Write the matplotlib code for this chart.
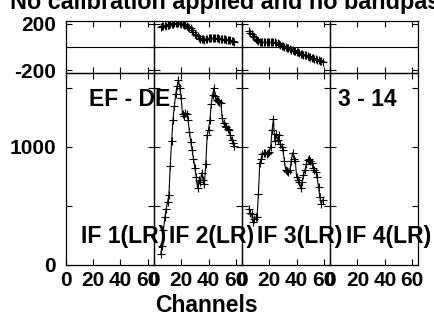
import matplotlib
matplotlib.use("Agg")
import matplotlib.pyplot as plt
from matplotlib.ticker import FixedLocator

plt.rcParams['font.family'] = ['Liberation Sans', 'DejaVu Sans']
plt.rcParams['font.weight'] = 'bold'
plt.rcParams['axes.unicode_minus'] = False

# ---- data ----
if_labels = ["IF 1(LR)", "IF 2(LR)", "IF 3(LR)", "IF 4(LR)"]
x_ticks = [0, 20, 40, 60]
channels = list(range(5, 60))

amp_if2 = [85, 160, 290, 400, 470, 530, 590, 840, 1050, 1230,
           1345, 1450, 1515, 1570, 1500, 1415, 1275, 1265, 1290, 1280,
           1230, 1130, 1045, 975, 900, 820, 740, 650, 720, 700,
           780, 720, 680, 850, 1100, 1145, 1230, 1360, 1440, 1500,
           1430, 1400, 1390, 1380, 1370, 1245, 1200, 1175, 1170, 1150,
           1145, 1100, 1060, 1030, 1005]
amp_if3 = [470, 440, 425, 360, 383, 400, 400, 600, 860, 900,
           940, 950, 945, 935, 950, 960, 1000, 1140, 1235, 1050,
           1110, 1060, 1100, 1020, 1000, 970, 880, 800, 795, 790,
           800, 880, 950, 900, 880, 740, 720, 700, 650, 700,
           760, 800, 850, 890, 900, 880, 860, 820, 800, 790,
           740, 660, 570, 510, 550]
phase_if2 = [176, 182, 180, 188, 184, 191, 193, 196,
             199, 197, 202, 205, 207, 205, 202, 199,
             196, 191, 188, 180, 171, 165, 160, 148,
             131, 114, 103, 92, 80, 71, 67, 65,
             63, 69, 71, 75, 78, 76, 80, 78,
             75, 78, 76, 71, 69, 67, 71, 69,
             63, 58, 60, 56, 52, 49, 47]
phase_if3 = [141, 124, 113, 96, 85, 68, 57, 51,
             47, 45, 43, 45, 47, 43, 45, 45,
             43, 45, 41, 40, 34, 32, 23, 17,
             11, 6, 2, 0, -6, -11, -17, -23,
             -25, -32, -34, -40, -45, -51, -57, -62,
             -66, -70, -73, -79, -85, -88, -93, -96,
             -99, -104, -108, -113, -119, -124, -133]

amp_data = [None, amp_if2, amp_if3, None]
phase_data = [None, phase_if2, phase_if3, None]

# ---- layout ----
W, H = 435, 320
fig = plt.figure(figsize=(W / 100, H / 100), dpi=100)

left, right = 65.7, 418.3
pw = (right - left) / 4
ph_top, ph_bot = 20.7, 73.3
am_top, am_bot = 73.3, 264.5

def fx(px):
    return px / W

def fy(py):
    return 1 - py / H

tick_fs = 15
for i in range(4):
    x0 = left + i * pw
    axp = fig.add_axes([fx(x0), fy(ph_bot), fx(pw), (ph_bot - ph_top) / H])
    axa = fig.add_axes([fx(x0), fy(am_bot), fx(pw), (am_bot - am_top) / H])
    for ax in (axp, axa):
        ax.patch.set_alpha(0)
        ax.set_xlim(0, 64.5)
        ax.xaxis.set_major_locator(FixedLocator(x_ticks))
        ax.tick_params(direction='in', top=True, right=True, length=4,
                       width=0.8, labelsize=tick_fs, pad=5)
        ax.tick_params(which='minor', direction='in', top=True, right=True,
                       length=4, width=0.8)
        for s in ax.spines.values():
            s.set_linewidth(0.9)
    axp.set_ylim(-226, 226)
    axp.yaxis.set_major_locator(FixedLocator([-200, 200]))
    axp.yaxis.set_minor_locator(FixedLocator([0]))
    axp.axhline(0, color='black', lw=0.8)
    axp.tick_params(labelbottom=False)
    axa.set_ylim(0, 1625)
    axa.yaxis.set_major_locator(FixedLocator([0, 1000]))
    axa.yaxis.set_minor_locator(FixedLocator([500, 1500]))
    if i > 0:
        axp.tick_params(labelleft=False)
        axa.tick_params(labelleft=False)
    else:
        axp.tick_params(axis='y', pad=7)
        axa.tick_params(axis='y', pad=7)
        for lab in axp.get_yticklabels() + axa.get_yticklabels():
            lab.set_fontweight('bold')
    for lab in axa.get_xticklabels():
        lab.set_fontweight('bold')
    if amp_data[i] is not None:
        axa.plot(channels, amp_data[i], color='black', lw=0.8,
                 marker='+', ms=6, mew=0.8)
        axp.plot(channels, phase_data[i], color='black',
                 marker='+', ms=6, mew=0.8, linestyle='none')
    fig.text(fx(x0 + 15.5), fy(236.5), if_labels[i], fontsize=16.5,
             fontweight='bold', ha='left', va='center', zorder=5)

fig.text(fx(left + 23.6), fy(99), "EF - DE", fontsize=16.5, fontweight='bold',
         ha='left', va='center')
fig.text(fx(right - 21.6), fy(99), "3 - 14", fontsize=16.5, fontweight='bold',
         ha='right', va='center')
fig.text(fx(206), fy(306), "Channels", fontsize=16.5, fontweight='bold',
         ha='center', va='center')
fig.text(fx(10), fy(8.5), "No calibration applied and no bandpass applied",
         fontsize=16.8, fontweight='bold', ha='left', va='baseline')

fig.savefig("out.png", dpi=100)
